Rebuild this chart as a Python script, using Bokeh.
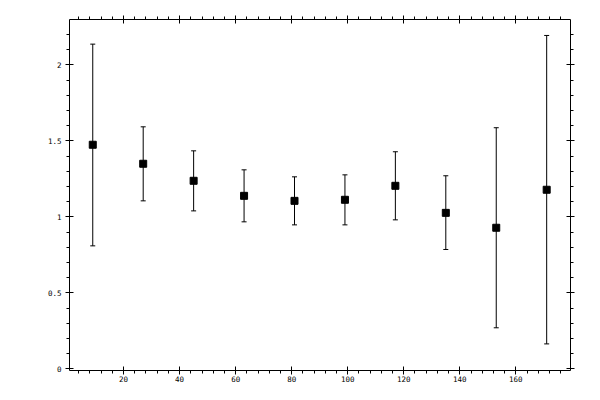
from bokeh.embed import file_html
from bokeh.models import (ColumnDataSource, FixedTicker, LinearAxis,
                          CustomJSTickFormatter, Range1d, TeeHead, Whisker)
from bokeh.plotting import figure
from bokeh.resources import INLINE

# values
x_vals = [9, 27, 45, 63, 81, 99, 117, 135, 153, 171]
y_vals = [1.474, 1.349, 1.237, 1.138, 1.105, 1.112, 1.204, 1.026, 0.928, 1.178]
y_upper = [2.136, 1.592, 1.434, 1.309, 1.263, 1.276, 1.428, 1.270, 1.586, 2.193]
y_lower = [0.809, 1.105, 1.039, 0.967, 0.947, 0.947, 0.980, 0.785, 0.270, 0.164]

x_major = [20, 40, 60, 80, 100, 120, 140, 160]
y_major = [0, 0.5, 1, 1.5, 2]

FONT = "DejaVu Sans Mono"
FONT_SIZE = "7.5px"

src = ColumnDataSource(data=dict(x=x_vals, y=y_vals, upper=y_upper, lower=y_lower))

p = figure(width=584, height=384, output_backend="svg", toolbar_location=None,
           x_range=Range1d(0.7, 179.5), y_range=Range1d(-0.011, 2.298),
           x_axis_location=None, y_axis_location=None,
           min_border_left=69, min_border_right=14,
           min_border_top=19, min_border_bottom=14)
p.grid.visible = False
p.outline_line_color = None
p.background_fill_color = "white"
p.border_fill_color = "white"


def style_axis(axis, ticks, minor, labels, standoff):
    axis.ticker = FixedTicker(ticks=ticks, minor_ticks=minor)
    axis.axis_line_color = "black"
    axis.axis_line_width = 1
    axis.major_tick_line_color = "black"
    axis.minor_tick_line_color = "black"
    axis.major_tick_in = 4
    axis.major_tick_out = 4
    axis.minor_tick_in = 0
    axis.minor_tick_out = 3
    axis.major_label_text_font = FONT
    axis.major_label_text_font_size = FONT_SIZE
    axis.major_label_text_color = "black"
    axis.major_label_standoff = standoff
    if labels:
        axis.formatter = CustomJSTickFormatter(code="return tick.toString();")
    else:
        axis.formatter = CustomJSTickFormatter(code="return '';")


x_minor = [v for v in range(4, 180, 4)]
y_minor = [round(v * 0.1, 1) for v in range(0, 23)]

for loc in ("below", "above"):
    ax = LinearAxis()
    style_axis(ax, x_major, x_minor, loc == "below", 1 if loc == "below" else 0)
    p.add_layout(ax, loc)

for loc in ("left", "right"):
    ax = LinearAxis()
    style_axis(ax, y_major, y_minor, loc == "left", 4 if loc == "left" else 0)
    p.add_layout(ax, loc)

err = Whisker(source=src, base="x", upper="upper", lower="lower",
              line_color="black", line_width=1,
              upper_head=TeeHead(size=5, line_color="black", line_width=1),
              lower_head=TeeHead(size=5, line_color="black", line_width=1))
p.add_layout(err)

p.scatter("x", "y", source=src, marker="square", size=7,
          fill_color="black", line_color="black")

open("out.html", "w").write(file_html(p, INLINE))
